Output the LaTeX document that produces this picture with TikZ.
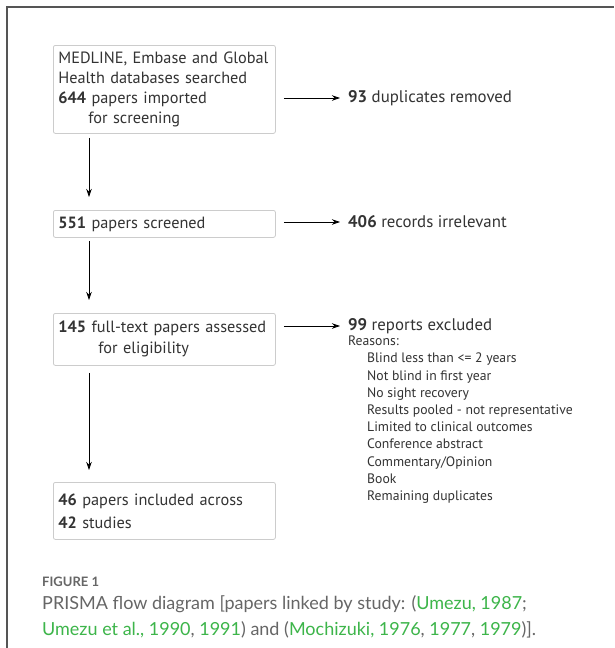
\documentclass[tikz,border=0pt]{standalone}
\usepackage{fontspec}
\setmainfont{PT Sans}
\newfontfamily\capfont{Lato}
\usetikzlibrary{arrows.meta}
\definecolor{txt}{HTML}{333333}
\definecolor{boxline}{HTML}{CCCCCC}
\definecolor{framecol}{HTML}{555555}
\definecolor{capgray}{HTML}{666666}
\definecolor{capgreen}{HTML}{3DB54A}
\begin{document}
\begin{tikzpicture}[x=1pt,y=-1pt,
  box/.style={draw=boxline, line width=0.8pt, rounded corners=2pt, anchor=north west, align=left, inner sep=5pt, text width=212pt, font=\fontsize{16.3}{20}\selectfont, text=txt},
  arr/.style={-{Stealth[length=8pt,width=5.5pt]}, line width=0.8pt},
  lab/.style={anchor=west, inner sep=0pt, font=\fontsize{16.8}{18}\selectfont, text=txt},
  reason/.style={anchor=north west, inner sep=0pt, align=left, font=\fontsize{13.7}{17.2}\selectfont, text=txt}]
\useasboundingbox (0,0) rectangle (614,648);
\fill[white] (0,0) rectangle (614,648);
\draw[framecol, line width=1.5pt] (7,648) -- (7,7) -- (614,7);
% boxes
\node[box, minimum height=88pt] (b1) at (53,45)
  {MEDLINE, Embase and Global\\Health databases searched\\\textbf{644} papers imported\\\hspace*{30pt}for screening};
\node[box, minimum height=27pt] (b2) at (53,210)
  {\textbf{551} papers screened};
\node[box, minimum height=52pt, font=\fontsize{16.3}{21}\selectfont] (b3) at (53,313)
  {\textbf{145} full-text papers assessed\\\hspace*{40pt}for eligibility};
\node[box, minimum height=57pt, font=\fontsize{16.3}{23}\selectfont] (b4) at (53,482)
  {\textbf{46} papers included across\\\textbf{42} studies};
% exclusion labels
\node[lab] (e1) at (348,98) {\textbf{93} duplicates removed};
\node[lab] (e2) at (348,222) {\textbf{406} records irrelevant};
\node[lab] (e3) at (348,326) {\textbf{99} reports excluded};
\node[reason] (rh) at (348,336) {Reasons:};
\node[reason] (rl) at (367,353)
  {Blind less than <= 2 years\\Not blind in first year\\No sight recovery\\Results pooled - not representative\\Limited to clinical outcomes\\Conference abstract\\Commentary/Opinion\\Book\\Remaining duplicates};
% connectors
\draw[arr, shorten <=8pt, shorten >=8pt] (b1.east |- e1.west) -- (e1.west);
\draw[arr, shorten <=8pt, shorten >=8pt] (b2.east |- e2.west) -- (e2.west);
\draw[arr, shorten <=8pt, shorten >=8pt] (b3.east |- e3.west) -- (e3.west);
\draw[arr] ([xshift=36pt,yshift=-4pt]b1.south west) -- ([xshift=36pt,yshift=13pt]b2.north west);
\draw[arr] ([xshift=36pt,yshift=-3pt]b2.south west) -- ([xshift=36pt,yshift=13pt]b3.north west);
\draw[arr] ([xshift=36pt,yshift=-7pt]b3.south west) -- ([xshift=36pt,yshift=12pt]b4.north west);
% caption
\node[anchor=base west, inner sep=0pt, font=\capfont\bfseries\fontsize{13}{16}\selectfont, text=capgray] (fig) at (42,586) {FIGURE 1};
\node[anchor=north west, inner sep=0pt, align=left, font=\capfont\fontsize{18}{26}\selectfont, text=capgray] (cap) at (42,595)
  {PRISMA flow diagram [papers linked by study: (\textcolor{capgreen}{Umezu, 1987};\\\textcolor{capgreen}{Umezu et al., 1990}, \textcolor{capgreen}{1991}) and (\textcolor{capgreen}{Mochizuki, 1976}, \textcolor{capgreen}{1977}, \textcolor{capgreen}{1979})].};
\end{tikzpicture}
\end{document}
